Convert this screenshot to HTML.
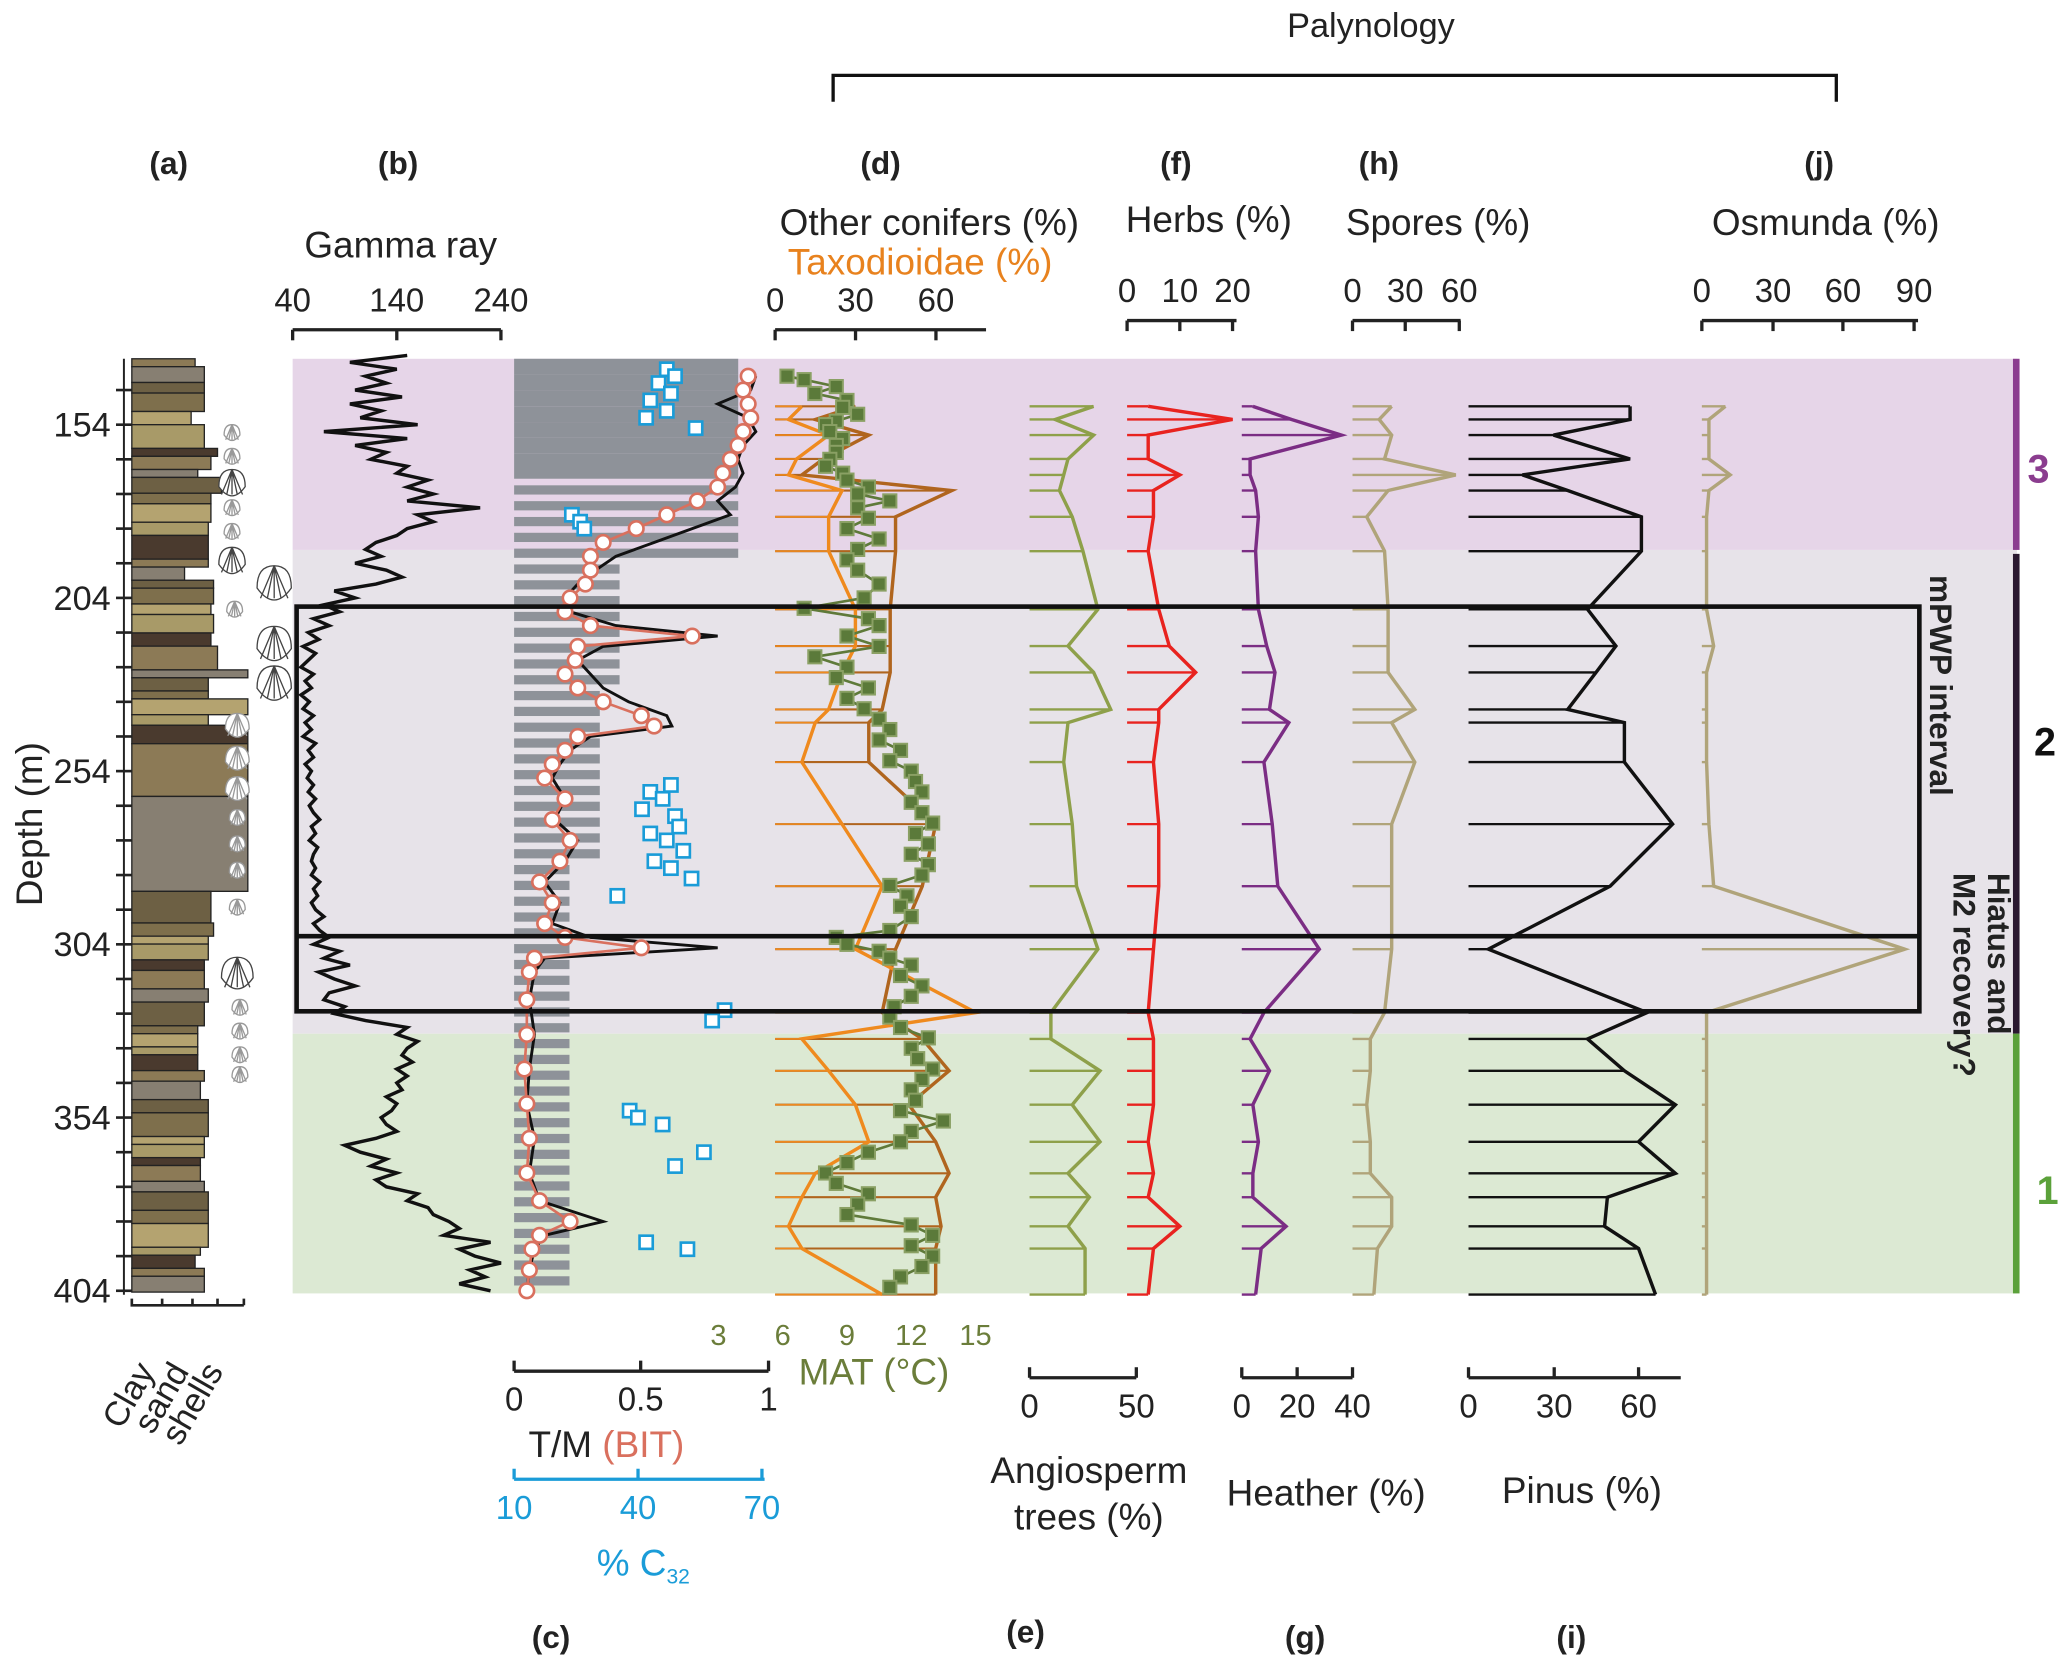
<!DOCTYPE html>
<html><head><meta charset="utf-8"><style>
html,body{margin:0;padding:0;background:#fff}
svg{display:block;font-family:"Liberation Sans",sans-serif}
</style></head><body>
<svg id="chart" width="2067" height="1668" viewBox="0 0 1568 1265" xmlns="http://www.w3.org/2000/svg">
<g id="bg"></g>
<g id="static" font-size="24" fill="#222">
<text x="1040" y="28" text-anchor="middle" font-size="26">Palynology</text>
<path d="M632,77V57H1393V77" fill="none" stroke="#111" stroke-width="2.5"/>
<g font-weight="bold" font-size="24" text-anchor="middle">
<text x="128" y="132">(a)</text>
<text x="302" y="132">(b)</text>
<text x="668" y="132">(d)</text>
<text x="892" y="132">(f)</text>
<text x="1046" y="132">(h)</text>
<text x="1380" y="132">(j)</text>
<text x="418" y="1250">(c)</text>
<text x="778" y="1246">(e)</text>
<text x="990" y="1250">(g)</text>
<text x="1192" y="1250">(i)</text>
</g>
<g font-size="28" text-anchor="middle">
<text x="304" y="195">Gamma ray</text>
<text x="705" y="178">Other conifers (%)</text>
<text x="698" y="208" fill="#e8821e">Taxodioidae (%)</text>
<text x="917" y="176">Herbs (%)</text>
<text x="1091" y="178">Spores (%)</text>
<text x="1385" y="178">Osmunda (%)</text>
<text x="663" y="1050" fill="#6b7d3a">MAT (°C)</text>
<text x="460" y="1105">T/M <tspan fill="#d9705e">(BIT)</tspan></text>
<text x="488" y="1195" fill="#1a9cd8">% C<tspan font-size="16" dy="6">32</tspan></text>
<text x="826" y="1125">Angiosperm</text>
<text x="826" y="1160">trees (%)</text>
<text x="1006" y="1142">Heather (%)</text>
<text x="1200" y="1140">Pinus (%)</text>
<text transform="translate(32,625) rotate(-90)">Depth (m)</text>
</g>
<g font-size="26" text-anchor="end">
<text transform="translate(118,1040) rotate(-60)">Clay</text>
<text transform="translate(144,1040) rotate(-60)">sand</text>
<text transform="translate(170,1040) rotate(-60)">shells</text>
</g>
<g font-size="24" font-weight="bold">
<text x="1538" y="366" fill="#8b3d8f" font-size="30">3</text>
<text x="1543" y="573" fill="#111" font-size="30">2</text>
<text x="1545" y="913" fill="#5ba13a" font-size="30">1</text>
<text transform="translate(1464,436) rotate(90)">mPWP interval</text>
<text transform="translate(1508,662) rotate(90)">Hiatus and</text>
<text transform="translate(1482,662) rotate(90)">M2 recovery?</text>
</g>
</g>
<g id="dyn"></g>
</svg>
<script>
// ---- data ----
const depthTicks=[154,204,254,304,354,404];
const samples=[148.7,152.5,157,163.9,168.5,173,180.6,190.5,207.3,217.9,225.5,236.2,240,251.4,269.3,287.2,305.4,323.7,331.3,340.5,350.3,361,370.1,377,385.4,391.8,405.1];
const angio=[30,12,30,18,16,14,20,25,32,18,30,38,18,16,20,22,32,10,10,33,20,33,18,28,18,26,26];
const herbs=[4,20,4,4,10,5,5,4,6,8,13,6,6,5,6,6,5,4,5,5,5,4,5,4,10,5,4];
const heather=[4,18,36,3,3,5,6,5,6,9,12,10,17,8,11,13,28,8,3,10,4,6,4,4,16,7,5];
const spores=[22,15,22,18,58,20,8,18,20,20,20,35,22,35,22,22,22,18,10,10,8,10,10,22,22,14,12];
const pinus=[57,57,30,57,19,35,61,61,42,52,45,35,55,55,72,50,7,63,42,55,73,60,73,49,48,60,66];
const osmunda=[10,3,3,3,12,3,2,2,2,5,2,2,2,2,3,5,86,2,2,2,2,2,2,2,2,2,2];
const otherConif=[30,15,35,18,10,66,45,45,43,43,43,40,35,35,60,55,45,40,55,65,50,60,65,60,62,60,60];
const taxod=[10,5,20,8,5,25,20,20,30,30,25,20,15,10,25,40,30,75,10,20,30,35,15,10,5,10,40];
const matDepth=[140,141,143,145,147,149,151,153,154,156,158,160,162,164,166,168,170,172,174,176,178,181,184,187,190,193,196,200,204,207,210,212,215,218,221,224,227,230,233,236,239,242,245,248,251,254,257,260,263,266,269,272,275,278,281,284,287,290,293,296,300,302,304,306,308,310,313,316,319,322,325,328,331,334,337,340,343,346,349,352,355,358,361,364,367,370,373,376,379,382,385,388,391,394,397,400,403];
const matVal=[6.2,7,8.5,7.5,9,8.8,9.5,8.5,8,8.2,8.8,8.5,8.5,8.2,8,8.8,9,10,9.5,11,9.5,10,9,10.5,9.5,9,9.5,10.5,9.8,7,10,10.5,9,10.5,7.5,9,8.5,10,9,9.8,10.5,11,10.5,11.5,11,12,12.2,12.5,12,12.5,13,12.2,12.8,12,12.8,12.5,11,11.8,11.5,12,11,8.5,9,10.5,11,12,11.5,12.5,12,11.2,11,11.5,12.8,12,12.3,13,12.5,12,12.2,11.5,13.5,12,11.5,10,9,8,8.5,10,9.5,9,12,13,12,13,12.5,11.5,11];
const tmDepth=[140,144,148,152,156,160,164,168,172,176,180,184,188,192,196,200,204,208,212,215,218,222,226,230,234,238,241,244,248,252,256,262,268,274,280,286,292,298,302,305,308,312,320,330,340,350,360,370,378,384,388,392,398,404];
const tmVal=[0.95,0.93,0.8,0.92,0.95,0.9,0.88,0.9,0.87,0.8,0.85,0.7,0.55,0.4,0.32,0.25,0.2,0.22,0.4,0.8,0.35,0.25,0.3,0.35,0.45,0.6,0.62,0.3,0.22,0.18,0.15,0.2,0.16,0.25,0.2,0.12,0.18,0.15,0.3,0.8,0.12,0.08,0.06,0.08,0.06,0.05,0.08,0.06,0.1,0.35,0.12,0.08,0.06,0.05];
const bitVal=[0.92,0.9,0.92,0.93,0.9,0.88,0.85,0.82,0.8,0.72,0.6,0.48,0.35,0.3,0.3,0.28,0.22,0.2,0.3,0.7,0.25,0.24,0.2,0.25,0.35,0.5,0.55,0.25,0.2,0.15,0.12,0.2,0.15,0.22,0.18,0.1,0.15,0.12,0.2,0.5,0.08,0.06,0.05,0.05,0.04,0.05,0.06,0.05,0.1,0.22,0.1,0.07,0.06,0.05];
const c32Depth=[138,140,142,145,147,150,152,155,180,182,184,258,260,262,265,267,270,272,274,277,280,282,285,290,323,326,352,354,356,364,368,390,392];
const c32Val=[47,49,45,48,43,47,42,54,24,26,27,48,43,46,41,49,50,43,47,51,44,48,53,35,61,58,38,40,46,56,49,42,52];
const gammaVal=[150,95,140,110,130,100,145,95,125,105,160,70,150,100,
130,115,150,140,170,150,175,150,220,160,
175,150,140,120,110,125,100,130,145,120,
80,100,70,85,60,75,55,65,50,62,
55,48,60,52,58,48,56,50,60,52,
58,50,62,55,60,52,58,54,60,55,
62,56,60,66,58,62,56,64,60,58,
62,58,66,60,64,58,62,70,60,66,
75,60,85,70,95,65,80,100,75,70,
90,80,110,150,140,160,150,145,155,140,
150,140,145,130,140,135,125,130,140,120,
90,105,130,115,140,120,130,160,150,170,
175,190,200,185,230,200,215,240,210,225,200,230];
const gammaTop=134, gammaBottom=404;
// ---- helpers ----
const NS="http://www.w3.org/2000/svg";
const bg=document.getElementById('bg'),dyn=document.getElementById('dyn');
function Y(d){return 322+(d-154)*2.628;}
function mk(tag,attrs,parent){const e=document.createElementNS(NS,tag);for(const k in attrs)e.setAttribute(k,attrs[k]);(parent||dyn).appendChild(e);return e;}
let e;
e=mk('rect',{x:222,y:272,width:1308,height:145,fill:'#e6d5e8'},bg);


e=mk('rect',{x:222,y:417,width:1308,height:367,fill:'#e7e3e9'},bg);


e=mk('rect',{x:222,y:784,width:1308,height:197,fill:'#dce9d3'},bg);


e=mk('rect',{x:1527,y:272,width:5,height:145,fill:'#8b3d8f'});


e=mk('rect',{x:1527,y:420,width:5,height:364,fill:'#2a1830'});


e=mk('rect',{x:1527,y:784,width:5,height:197,fill:'#5ba13a'});


for(let yy=272;yy<980;yy+=12){
 let w = yy<417?170:(yy<650?(yy<520?80:65):42);
 let h = yy<345?12:7;
 e=mk('rect',{x:390,y:yy,width:w,height:h,fill:'#8e9299'});
 
 
}
const lithColors=['#8c7a56','#a89a68','#7e6f4c','#877f72','#4a3a2e','#b4a370','#6d6044'];
let yy=272,i=0;
const lithW=[48,55,55,55,45,55,65,60,50,68,60,60,58,58,58,40,62,62,60,62,60,65,88,58,58,88,58,88,88,88,60,62,58,58,55,55,58,55,50,50,50,50,55,52,58,58,55,55,52,52,55,58,58,58,52];
while(yy<980){const h=[6,12,8,14,10,18,6,10][i%8]*(yy>560&&yy<680?4:1);
 e=mk('rect',{x:100,y:yy,width:lithW[i%lithW.length],height:Math.min(h,980-yy),fill:lithColors[(i*3)%7],stroke:'#222','stroke-width':1});
 
 
 yy+=h;i++;}
e=mk('path',{d:'M100,985V990H185M123,985V990M146,985V990M165,985V990M185,985V990',stroke:'#222','stroke-width':2,fill:'none'});


[[176,328,6],[176,346,6],[176,366,10],[176,385,6],[176,403,6],[176,425,10],[208,442,13],[178,462,6],[208,488,13],[208,518,13],[180,550,9],[180,575,9],[180,598,9],[180,620,6],[180,640,6],[180,660,6],[180,688,6],[180,738,12],[182,764,6],[182,782,6],[182,800,6],[182,815,6]].forEach(s=>{
 const [cx,cy,r]=s;
 let d=`M${cx-r},${cy+r*0.3}Q${cx-r},${cy-r} ${cx},${cy-r}Q${cx+r},${cy-r} ${cx+r},${cy+r*0.3}Q${cx+r*0.5},${cy+r} ${cx},${cy+r}Q${cx-r*0.5},${cy+r} ${cx-r},${cy+r*0.3}Z`;
 for(const f of [-0.8,-0.4,0,0.4,0.8]) d+=`M${cx},${cy-r}L${cx+f*r},${cy+r*0.9}`;
 e=mk('path',{d:d,fill:'#fff',stroke:r>9?'#444':'#999','stroke-width':1});
 
 
});
e=mk('line',{x1:94,y1:272,x2:94,y2:982,stroke:'#222','stroke-width':1.5});


for(let d=144;d<=404;d+=10){e=mk('line',{x1:88,y1:Y(d),x2:100,y2:Y(d),stroke:'#222','stroke-width':2});
 
 }
depthTicks.forEach(d=>{e=mk('text',{x:84,y:Y(d)+9,'text-anchor':'end','font-size':26,fill:'#222'});e.textContent=d;
 
 });
function axis(name,x0,x1,y,ticks,labels,up,color,fs){
 const g=mk('g',{});
 
 
 const c=color||'#222';
 mk('line',{x1:x0,y1:y,x2:x1,y2:y,stroke:c,'stroke-width':2.5},g);
 ticks.forEach((tx,k)=>{mk('line',{x1:tx,y1:y,x2:tx,y2:y+(up?-8:8),stroke:c,'stroke-width':2.5},g);
  const t=mk('text',{x:tx,y:up?y+30:y-14,'text-anchor':'middle','font-size':fs||25,fill:c},g);t.textContent=labels[k];});
}
axis('gamma-axis',222,380,250,[222,301,380],['40','140','240'],false);
axis('conifers-axis',588,748,250,[588,649,710],['0','30','60'],false);
axis('herbs-axis',855,938,243,[855,895,935],['0','10','20'],false);
axis('spores-axis',1026,1108,243,[1026,1066,1107],['0','30','60'],false);
axis('osmunda-axis',1291,1455,243,[1291,1345,1398,1452],['0','30','60','90'],false);
axis('tm-axis',390,583,1040,[390,486,583],['0','0.5','1'],true);
axis('c32-axis',390,580,1122,[390,484,578],['10','40','70'],true,'#1a9cd8');
axis('angio-axis',781,862,1045,[781,862],['0','50'],true);
axis('heather-axis',942,1026,1045,[942,984,1026],['0','20','40'],true);
axis('pinus-axis',1114,1275,1045,[1114,1179,1243],['0','30','60'],true);
[3,6,9,12,15].forEach(v=>{e=mk('text',{x:545+(v-3)*16.25,y:1020,'text-anchor':'middle','font-size':22,fill:'#6b7d3a'});e.textContent=v;
 
 });
// gamma (evenly spaced samples)
const gstep=(gammaBottom-gammaTop)/(gammaVal.length-1);
e=mk('polyline',{points:gammaVal.map((v,k)=>`${222+(v-40)*0.79},${Y(gammaTop+k*gstep)}`).join(' '),fill:'none',stroke:'#111','stroke-width':2.6,'stroke-linejoin':'miter'});


function series(name,vals,x0,scale,color,bw){
 const g=mk('g',{});
 
 
 samples.forEach((d,k)=>{mk('line',{x1:x0,y1:Y(d),x2:x0+vals[k]*scale,y2:Y(d),stroke:color,'stroke-width':bw||1.8},g);});
 mk('polyline',{points:samples.map((d,k)=>`${x0+vals[k]*scale},${Y(d)}`).join(' '),fill:'none',stroke:color,'stroke-width':2.6},g);
}
series('other-conifers-series',otherConif,588,2.03,'#b0651e',1.6);
series('taxodioidae-series',taxod,588,2.03,'#ef8a1e',1.2);
series('angiosperm-series',angio,781,1.62,'#8ea04a');
series('herbs-series',herbs,855,4,'#e8231f');
series('heather-series',heather,942,2.1,'#7b2d84');
series('spores-series',spores,1026,1.35,'#b0a47a');
series('pinus-series',pinus,1114,2.15,'#111');
series('osmunda-series',osmunda,1291,1.79,'#b0a47a');
e=mk('polyline',{points:matDepth.map((d,k)=>`${545+(matVal[k]-3)*16.25},${Y(d)}`).join(' '),fill:'none',stroke:'#5f7a3a','stroke-width':2});


matDepth.forEach((d,k)=>{e=mk('rect',{x:545+(matVal[k]-3)*16.25-5,y:Y(d)-5,width:10,height:10,fill:'#5b7a3a',stroke:'#8aa064','stroke-width':1.5});
 
 });
e=mk('polyline',{points:tmDepth.map((d,k)=>`${390+tmVal[k]*193},${Y(d)}`).join(' '),fill:'none',stroke:'#111','stroke-width':2.2});


e=mk('polyline',{points:tmDepth.map((d,k)=>`${390+bitVal[k]*193},${Y(d)}`).join(' '),fill:'none',stroke:'#d9705e','stroke-width':2});


tmDepth.forEach((d,k)=>{e=mk('circle',{cx:390+bitVal[k]*193,cy:Y(d),r:5.5,fill:'#fff',stroke:'#d9705e','stroke-width':2});
 
 });
c32Depth.forEach((d,k)=>{e=mk('rect',{x:390+(c32Val[k]-10)*3.13-5,y:Y(d)-5,width:10,height:10,fill:'#fff',stroke:'#1a9cd8','stroke-width':2});
 
 });
e=mk('rect',{x:225,y:460,width:1231,height:307,fill:'none',stroke:'#111','stroke-width':3.5});


e=mk('line',{x1:225,y1:710,x2:1456,y2:710,stroke:'#111','stroke-width':3.5});


</script>
</body></html>
